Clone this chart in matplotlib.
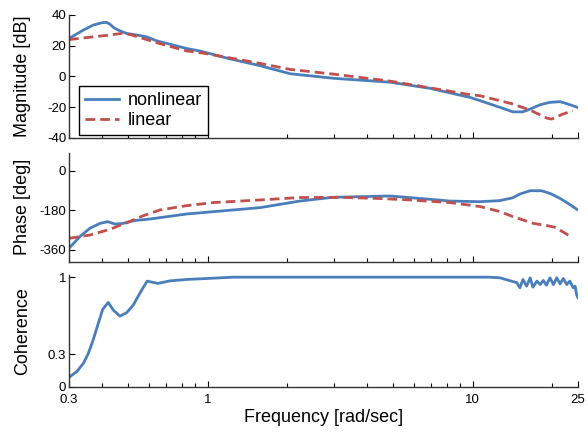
import numpy as np
import matplotlib
matplotlib.use("Agg")
import matplotlib.pyplot as plt
from matplotlib.ticker import FixedLocator, NullFormatter

plt.rcParams['font.family'] = ['Liberation Sans', 'DejaVu Sans']
plt.rcParams['axes.unicode_minus'] = False

# magnitude [dB]
mag_nl_f = [0.30, 0.34, 0.37, 0.40, 0.416, 0.428, 0.445, 0.467, 0.495, 0.54, 0.589,
            0.643, 0.72, 0.834, 0.94, 1.18, 1.58, 2.05, 3.0, 4.88, 6.91, 9.78, 10.67,
            12.7, 14.2, 15.5, 16.5, 18.0, 19.6, 21.4, 22.9, 24.8]
mag_nl = [24.7, 30.2, 33.4, 35.0, 35.2, 34.0, 31.5, 29.7, 28.0, 27.0, 25.8,
          23.2, 21.0, 18.2, 16.5, 12, 7, 1.8, -1.2, -3.7, -7.7, -13.6, -15.7,
          -20.1, -23, -23, -21.2, -18.4, -16.8, -16.4, -17.9, -20]
mag_lin_f = [0.30, 0.37, 0.42, 0.474, 0.51, 0.572, 0.66, 0.834, 0.94, 1.18, 1.58,
             2.05, 3.0, 4.88, 6.91, 9.78, 10.67, 14.2, 16.5, 19.1, 19.9, 21.9, 23.9]
mag_lin = [24.0, 25.8, 26.8, 28.0, 27.3, 24.7, 21.4, 16.6, 15.5, 12.5, 8.5,
           4.6, 1.5, -3, -7.4, -11.8, -12.5, -17.9, -21.9, -27.1, -27.7, -24.5, -22.3]

# phase [deg]
ph_nl_f = [0.30, 0.33, 0.36, 0.393, 0.42, 0.448, 0.48, 0.53, 0.606, 0.834, 1.58, 2.23,
           2.97, 4.88, 6.91, 8.22, 10.67, 12.7, 14.2, 15.1, 16.5, 18.2, 19.6, 21.4,
           22.9, 24.8]
ph_nl = [-352, -299, -261, -239, -231, -242, -239, -226, -219, -196, -167, -137,
         -120, -114, -129, -137, -140, -135, -122, -105, -90, -90, -102, -125,
         -147, -175]
ph_lin_f = [0.30, 0.36, 0.428, 0.495, 0.572, 0.66, 0.834, 1.05, 1.58, 2.23, 3.16,
            4.36, 5.81, 8.22, 10.67, 12.7, 14.2, 17.0, 19.1, 20.5, 21.9, 23.7]
ph_lin = [-307, -292, -266, -236, -204, -178, -158, -144, -132, -121, -120,
          -125, -132, -144, -162, -185, -208, -239, -249, -257, -277, -302]

# coherence
coh_f = [0.30, 0.321, 0.34, 0.355, 0.37, 0.387, 0.402, 0.422, 0.441, 0.467, 0.495,
         0.524, 0.564, 0.592, 0.65, 0.72, 0.834, 0.94, 1.25, 11.5, 12.7, 13.6, 14.7,
         15.1, 15.5, 16.0, 16.5, 16.9, 17.5, 18.0, 18.5, 19.0, 19.6, 20.2, 20.8,
         21.4, 22.0, 22.7, 23.3, 24.0, 24.4, 24.7, 25.0]
coh = [0.088, 0.14, 0.215, 0.306, 0.427, 0.579, 0.706, 0.77, 0.70, 0.645, 0.676,
       0.745, 0.882, 0.964, 0.943, 0.966, 0.979, 0.985, 1.0, 1.0, 0.994, 0.973, 0.95,
       0.903, 0.979, 0.918, 0.994, 0.909, 0.964, 0.933, 0.97, 0.927, 0.994, 0.933,
       0.994, 0.939, 0.988, 0.933, 0.964, 0.903, 0.918, 0.842, 0.812]

blue = "#4a7ebb"
red = "#c0504d"

fig = plt.figure(figsize=(5.88, 4.32), dpi=100)
ax1 = fig.add_axes([0.1173, 0.6806, 0.8656, 0.2847])
ax2 = fig.add_axes([0.1173, 0.3935, 0.8656, 0.2523])
ax3 = fig.add_axes([0.1173, 0.1042, 0.8656, 0.2593])

ax1.plot(mag_nl_f, mag_nl, color=blue, lw=2, label="nonlinear")
ax1.plot(mag_lin_f, mag_lin, color=red, lw=2, dashes=(3.5, 1.8), label="linear")
ax1.set_ylim(-40, 40)
ax1.set_yticks([-40, -20, 0, 20, 40])

ax2.plot(ph_nl_f, ph_nl, color=blue, lw=2)
ax2.plot(ph_lin_f, ph_lin, color=red, lw=2, dashes=(3.5, 1.8))
ax2.set_ylim(-415, 82)
ax2.set_yticks([-360, -180, 0])

ax3.plot(coh_f, coh, color=blue, lw=2)
ax3.set_ylim(0, 1.02)
ax3.set_yticks([0, 0.3, 1])
ax3.set_yticklabels(["0", "0.3", "1"])

minor = [0.4, 0.5, 0.6, 0.7, 0.8, 0.9, 2, 3, 4, 5, 6, 7, 8, 9, 20]
for ax in (ax1, ax2, ax3):
    ax.set_xscale("log")
    ax.set_xlim(0.3, 25)
    ax.xaxis.set_major_locator(FixedLocator([0.3, 1, 10, 25]))
    ax.xaxis.set_minor_locator(FixedLocator(minor))
    ax.xaxis.set_minor_formatter(NullFormatter())
    for s in ("top", "right"):
        ax.spines[s].set_visible(False)
    for s in ("left", "bottom"):
        ax.spines[s].set_color("#333333")
        ax.spines[s].set_linewidth(1.0)
    ax.tick_params(which="major", direction="in", length=4, width=0.8,
                   labelsize=9.5, pad=2)
    ax.tick_params(which="minor", direction="in", length=3, width=0.8)
    ax.tick_params(axis="x", pad=5)

ax1.set_xticklabels([])
ax2.set_xticklabels([])
ax3.set_xticklabels(["0.3", "1", "10", "25"])

leg = ax1.legend(loc="lower left", bbox_to_anchor=(0.02, 0.025), borderaxespad=0,
                 fontsize=13, frameon=True, fancybox=False, framealpha=1,
                 edgecolor="black", handlelength=1.9, handletextpad=0.5,
                 borderpad=0.3, labelspacing=0.2)
leg.get_frame().set_linewidth(1.0)

fig.text(23 / 588, 1 - 76 / 432, "Magnitude [dB]", rotation=90, ha="center",
         va="center", fontsize=13)
fig.text(23 / 588, 1 - 207 / 432, "Phase [deg]", rotation=90, ha="center",
         va="center", fontsize=13)
fig.text(23 / 588, 1 - 331 / 432, "Coherence", rotation=90, ha="center",
         va="center", fontsize=13)
fig.text(324 / 588, 1 - 417 / 432, "Frequency [rad/sec]", ha="center",
         va="center", fontsize=13)

fig.savefig("out.png", dpi=100)
